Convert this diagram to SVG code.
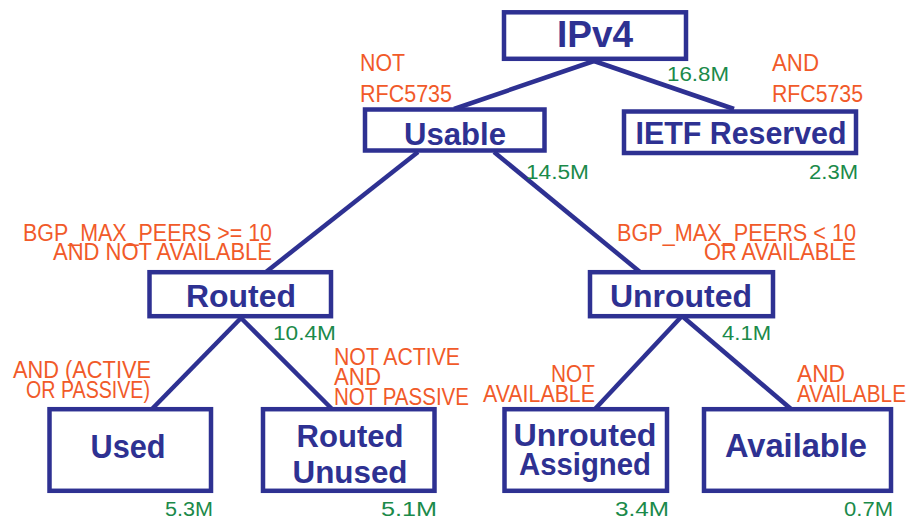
<svg xmlns="http://www.w3.org/2000/svg" width="910" height="521" viewBox="0 0 910 521">
<style>
.box{fill:#ffffff;stroke:#2e3192;stroke-width:4.5}
.conn line{stroke:#2e3192;stroke-width:4.5;stroke-linecap:butt}
.nt{font-family:"Liberation Sans",Arial,sans-serif;font-weight:bold;fill:#2e3192;text-anchor:middle}
.cond{font-family:"Liberation Sans",Arial,sans-serif;font-size:23px;fill:#f15a29}
.num{font-family:"Liberation Sans",Arial,sans-serif;font-size:20px;fill:#1b8a4a;text-anchor:end}
</style>
<rect width="910" height="521" fill="#ffffff"/>
<g id="connectors" class="conn">
<line x1="594" y1="61" x2="454" y2="109"/>
<line x1="594" y1="61" x2="734" y2="109"/>
<line x1="418" y1="152" x2="266" y2="272"/>
<line x1="494" y1="152" x2="640" y2="272"/>
<line x1="241" y1="318" x2="152" y2="409"/>
<line x1="241" y1="318" x2="332" y2="409"/>
<line x1="682" y1="316" x2="595" y2="409"/>
<line x1="682" y1="316" x2="791" y2="409"/>
</g>
<g id="n-ipv4">
<rect class="box" x="504" y="12.3" width="182" height="46.5"/>
<text class="nt" x="595" y="47" font-size="37">IPv4</text>
</g>
<g id="n-usable">
<rect class="box" x="365" y="109.5" width="179.5" height="41"/>
<text class="nt" x="455" y="145" font-size="32" textLength="102" lengthAdjust="spacingAndGlyphs">Usable</text>
</g>
<g id="n-ietf">
<rect class="box" x="624" y="111.5" width="232" height="41.5"/>
<text class="nt" x="741" y="144" font-size="32" textLength="211" lengthAdjust="spacingAndGlyphs">IETF Reserved</text>
</g>
<g id="n-routed">
<rect class="box" x="149.5" y="272.2" width="181.5" height="44"/>
<text class="nt" x="241" y="307" font-size="32" textLength="110" lengthAdjust="spacingAndGlyphs">Routed</text>
</g>
<g id="n-unrouted">
<rect class="box" x="590" y="272.2" width="183" height="44"/>
<text class="nt" x="681" y="307" font-size="32" textLength="142" lengthAdjust="spacingAndGlyphs">Unrouted</text>
</g>
<g id="n-used">
<rect class="box" x="49.5" y="409.2" width="161.5" height="81.6"/>
<text class="nt" x="128" y="458" font-size="34" textLength="75" lengthAdjust="spacingAndGlyphs">Used</text>
</g>
<g id="n-routed-unused">
<rect class="box" x="263" y="409.2" width="171.5" height="81.6"/>
<text class="nt" x="350" y="447" font-size="32" textLength="107" lengthAdjust="spacingAndGlyphs">Routed</text>
<text class="nt" x="350" y="483" font-size="32" textLength="115" lengthAdjust="spacingAndGlyphs">Unused</text>
</g>
<g id="n-unrouted-assigned">
<rect class="box" x="504.5" y="409.2" width="162.5" height="81.6"/>
<text class="nt" x="585" y="446" font-size="32" textLength="143" lengthAdjust="spacingAndGlyphs">Unrouted</text>
<text class="nt" x="585" y="475" font-size="32" textLength="132" lengthAdjust="spacingAndGlyphs">Assigned</text>
</g>
<g id="n-available">
<rect class="box" x="704" y="409.2" width="187" height="81.6"/>
<text class="nt" x="796" y="457" font-size="34" textLength="142" lengthAdjust="spacingAndGlyphs">Available</text>
</g>
<g id="edge-labels">
<text class="cond" x="360" y="71" textLength="45" lengthAdjust="spacingAndGlyphs">NOT</text>
<text class="cond" x="360" y="102" textLength="92" lengthAdjust="spacingAndGlyphs">RFC5735</text>
<text class="cond" x="772" y="71" textLength="47" lengthAdjust="spacingAndGlyphs">AND</text>
<text class="cond" x="772" y="102" textLength="91" lengthAdjust="spacingAndGlyphs">RFC5735</text>
<text class="cond" x="23" y="241" textLength="249" lengthAdjust="spacingAndGlyphs">BGP_MAX_PEERS &gt;= 10</text>
<text class="cond" x="53" y="260" textLength="219" lengthAdjust="spacingAndGlyphs">AND NOT AVAILABLE</text>
<text class="cond" x="617" y="241" textLength="239" lengthAdjust="spacingAndGlyphs">BGP_MAX_PEERS &lt; 10</text>
<text class="cond" x="704" y="260" textLength="152" lengthAdjust="spacingAndGlyphs">OR AVAILABLE</text>
<text class="cond" x="13" y="378" textLength="138" lengthAdjust="spacingAndGlyphs">AND (ACTIVE</text>
<text class="cond" x="26" y="398" textLength="124" lengthAdjust="spacingAndGlyphs">OR PASSIVE)</text>
<text class="cond" x="334" y="365" textLength="126" lengthAdjust="spacingAndGlyphs">NOT ACTIVE</text>
<text class="cond" x="334" y="385" textLength="47" lengthAdjust="spacingAndGlyphs">AND</text>
<text class="cond" x="334" y="405" textLength="135" lengthAdjust="spacingAndGlyphs">NOT PASSIVE</text>
<text class="cond" x="551" y="382" textLength="44" lengthAdjust="spacingAndGlyphs">NOT</text>
<text class="cond" x="483" y="402" textLength="112" lengthAdjust="spacingAndGlyphs">AVAILABLE</text>
<text class="cond" x="797" y="382" textLength="48" lengthAdjust="spacingAndGlyphs">AND</text>
<text class="cond" x="797" y="402" textLength="109" lengthAdjust="spacingAndGlyphs">AVAILABLE</text>
<text class="num" x="729" y="81" textLength="62" lengthAdjust="spacingAndGlyphs">16.8M</text>
<text class="num" x="589" y="179" textLength="63" lengthAdjust="spacingAndGlyphs">14.5M</text>
<text class="num" x="858" y="179" textLength="49" lengthAdjust="spacingAndGlyphs">2.3M</text>
<text class="num" x="336" y="340" textLength="63" lengthAdjust="spacingAndGlyphs">10.4M</text>
<text class="num" x="771" y="340" textLength="49" lengthAdjust="spacingAndGlyphs">4.1M</text>
<text class="num" x="213" y="516" textLength="48" lengthAdjust="spacingAndGlyphs">5.3M</text>
<text class="num" x="437" y="516" textLength="56" lengthAdjust="spacingAndGlyphs">5.1M</text>
<text class="num" x="669" y="516" textLength="54" lengthAdjust="spacingAndGlyphs">3.4M</text>
<text class="num" x="893" y="516" textLength="49" lengthAdjust="spacingAndGlyphs">0.7M</text>
</g>
</svg>
